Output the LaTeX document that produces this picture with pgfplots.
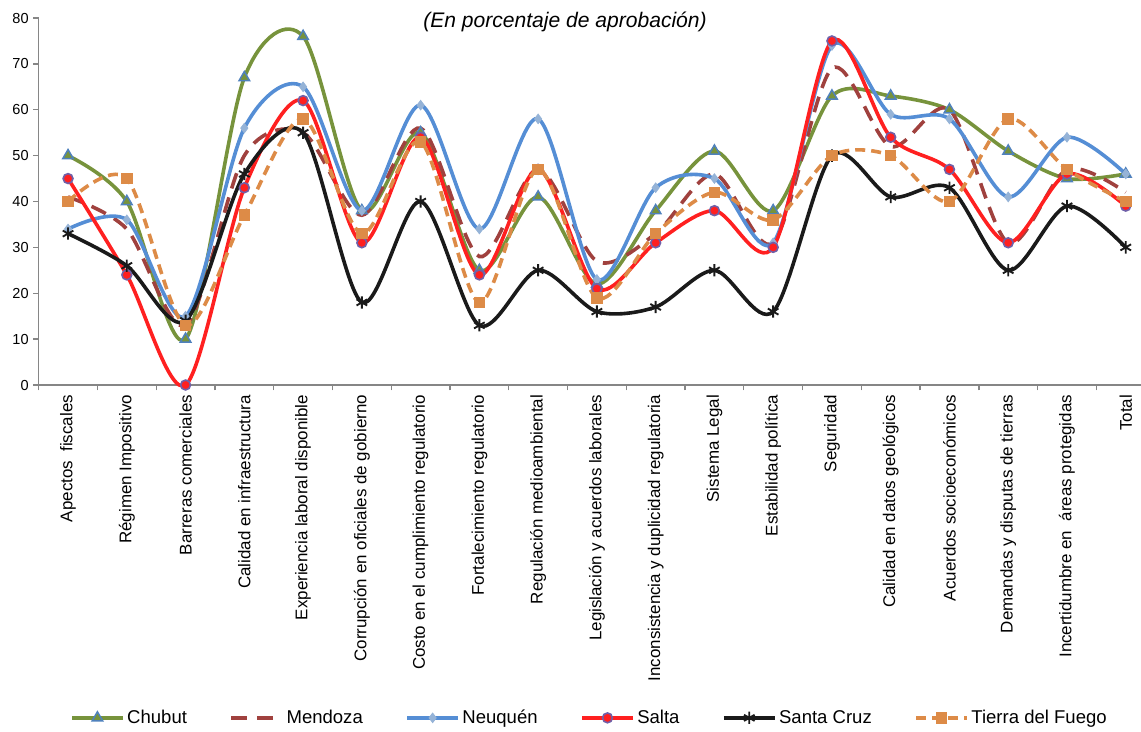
\documentclass[border=0pt]{standalone}
\usepackage{pgfplots}
\pgfplotsset{compat=1.18}
\usepackage{pgfplotstable}
\usepackage{fontspec}
\setmainfont{Liberation Sans}
\definecolor{chub}{HTML}{77933C}
\definecolor{chubedge}{HTML}{4F81BD}
\definecolor{mend}{HTML}{A0413E}
\definecolor{neuq}{HTML}{558ED5}
\definecolor{neuqm}{HTML}{95B3D7}
\definecolor{salt}{HTML}{FF2020}
\definecolor{saltedge}{HTML}{7060A8}
\definecolor{scruz}{HTML}{1A1A1A}
\definecolor{tdf}{HTML}{DD8B47}
\definecolor{axgray}{HTML}{868686}

\pgfplotstableread{
x Ch Me Ne Sa SC TF
0 50 41 34 45 33 40
1 40 34 36 24 26 45
2 10 13 15 0 14 13
3 67 50 56 43 46 37
4 76 55 65 62 55 58
5 38 37 38 31 18 33
6 55 56 61 54 40 53
7 25 28 34 24 13 18
8 41 47 58 47 25 47
9 22 27 23 21 16 19
10 38 33 43 31 17 33
11 51 46 45 38 25 42
12 38 31 31 30 16 36
13 63 69 74 75 50 50
14 63 52 59 54 41 50
15 60 60 58 47 43 40
16 51 31 41 31 25 58
17 45 47 54 46 39 47
18 46 42 46 39 30 40
}\datatable

\begin{document}
\begin{tikzpicture}
\useasboundingbox (0,0) rectangle (855.75pt,548.25pt);
\begin{axis}[
  at={(29pt,259.5pt)}, anchor=south west,
  scale only axis, width=826.75pt, height=275.25pt,
  xmin=-0.5, xmax=18.26, ymin=0, ymax=80,
  enlargelimits=false, clip=false,
  axis x line=bottom, axis y line=left,
  axis line style={draw=axgray, line width=1.1pt, -},
  tick align=outside,
  xtick={0,...,18},
  major x tick style={draw=none},
  minor xtick={-0.5,0.5,...,17.5},
  minor x tick style={draw=axgray, line width=1pt},
  minor tick length=4pt, major tick length=4pt,
  ytick={0,10,...,80},
  y tick style={draw=axgray, line width=1pt},
  /pgf/number format/assume math mode=true,
  yticklabel style={font=\fontsize{10.9}{12}\selectfont},
  xticklabel style={rotate=90, anchor=east, font=\fontsize{12.7}{14}\selectfont},
  xticklabels={Apectos\ \ fiscales, Régimen Impositivo, Barreras comerciales, Calidad en infraestructura, Experiencia laboral disponible, Corrupción en oficiales de gobierno, Costo en el cumplimiento regulatorio, Fortalecimiento regulatorio, Regulación medioambiental, Legislación y acuerdos laborales, Inconsistencia y duplicidad regulatoria, Sistema Legal, Estabilidad\ política, Seguridad, Calidad en datos geológicos, Acuerdos socioeconómicos, Demandas y disputas de tierras, Incertidumbre en\ \ áreas protegidas, Total},
  legend columns=6,
  legend cell align=left,
  legend style={at={(0.5,-0.907)}, anchor=center, draw=none, fill=none,
    font=\fontsize{13.9}{16}\selectfont,
    /tikz/every even column/.append style={column sep=30pt}},
  legend image code/.code={\draw[mark repeat=2,mark phase=2,#1] plot coordinates {(0pt,0pt) (19pt,0pt) (38pt,0pt)};},
  every axis plot/.append style={line width=2.7pt, smooth},
]
\addplot[color=chub, mark=triangle*, mark size=4.6pt, mark options={solid, fill=chub, draw=chubedge, line width=1.1pt}] table[x=x,y=Ch]{\datatable};
\addlegendentry{Chubut}
\addplot[color=mend, dash pattern=on 12pt off 7pt] table[x=x,y=Me]{\datatable};
\addlegendentry{Mendoza}
\addplot[color=neuq, mark=diamond*, mark size=3.6pt, mark options={solid, fill=neuqm, draw=neuqm, line width=0.6pt}] table[x=x,y=Ne]{\datatable};
\addlegendentry{Neuquén}
\addplot[color=salt, mark=*, mark size=3.7pt, mark options={solid, fill=salt, draw=saltedge, line width=1.2pt}] table[x=x,y=Sa]{\datatable};
\addlegendentry{Salta}
\addplot[color=scruz, mark=asterisk, mark size=4.6pt, mark options={solid, line width=1.4pt}] table[x=x,y=SC]{\datatable};
\addlegendentry{Santa Cruz}
\addplot[color=tdf, dash pattern=on 7.5pt off 4.5pt, mark=square*, mark size=3pt, mark options={solid, fill=tdf, draw=tdf}] table[x=x,y=TF]{\datatable};
\addlegendentry{Tierra del Fuego}
\node[font=\itshape\fontsize{15.8}{18}\selectfont] at (rel axis cs:0.4775,0.989) {(En porcentaje de aprobación)};
\end{axis}
\end{tikzpicture}
\end{document}
